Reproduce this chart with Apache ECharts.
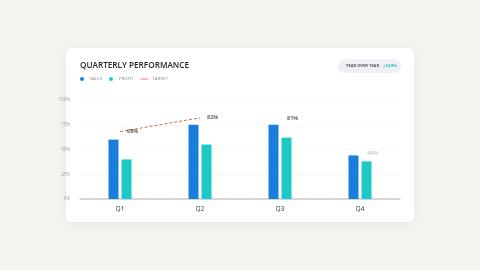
<!DOCTYPE html>
<html>
<head>
<meta charset="utf-8">
<script src="https://cdn.jsdelivr.net/npm/echarts@6/dist/echarts.min.js"></script>
<style>
  html, body { margin: 0; padding: 0; background: #f6f4f0; }
  #chart { width: 480px; height: 270px; }
</style>
</head>
<body>
<div id="chart"></div>
<script>
// chart data
const quarters = ['Q1', 'Q2', 'Q3', 'Q4'];
const sales = [60, 75, 75, 44];
const profit = [40, 55, 62, 38];
const targetLine = [68, 82, '-', '-'];
const targetLabels = [68, 82, 81, 46];
const yTicks = [0, 25, 50, 75, 100];

const chart = echarts.init(document.getElementById('chart'));
const font = "'Open Sans', 'Noto Sans', sans-serif";

chart.setOption({
  animation: false,
  backgroundColor: '#f6f4f0',
  textStyle: { fontFamily: font },
  title: {
    text: 'QUARTERLY PERFORMANCE',
    left: 75,
    top: 57,
    textStyle: { fontSize: 8.2, fontWeight: 600, color: '#262626', fontFamily: font }
  },
  legend: {
    left: 75,
    top: 72,
    itemWidth: 8,
    itemHeight: 4,
    itemGap: 7,
    textStyle: { fontSize: 4.3, color: '#8a8a8a', padding: [0, 0, 0, -1] },
    data: [
      { name: 'SALES', icon: 'circle' },
      { name: 'PROFIT', icon: 'circle' },
      { name: 'TARGET', icon: 'path://M0,0M0,1.6L8,1.6L8,2.4L0,2.4ZM8,4' }
    ]
  },
  graphic: [
    {
      type: 'rect', z: -10,
      shape: { x: 66, y: 48, width: 348, height: 174, r: 6 },
      style: { fill: '#ffffff', shadowBlur: 14, shadowColor: 'rgba(0,0,0,0.06)', shadowOffsetY: 2 }
    },
    {
      type: 'rect', z: 5,
      shape: { x: 338, y: 59, width: 63, height: 14, r: 7 },
      style: { fill: '#eef0f3' }
    },
    {
      type: 'text', z: 6, x: 346, y: 66,
      style: { text: 'YEAR OVER YEAR', fontSize: 4, fontWeight: 'bold', fill: '#555', verticalAlign: 'middle', fontFamily: font }
    },
    {
      type: 'text', z: 6, x: 383, y: 66,
      style: { text: '+14.8%', fontSize: 4, fontWeight: 'bold', fill: '#1fbfbf', verticalAlign: 'middle', fontFamily: font }
    }
  ],
  grid: { left: 80, right: 80, top: 100, bottom: 71 },
  xAxis: {
    type: 'category',
    data: quarters,
    axisTick: { show: false },
    axisLine: { lineStyle: { color: '#c9c9c9', width: 1.5 } },
    axisLabel: { fontSize: 6.5, color: '#333', margin: 7 }
  },
  yAxis: {
    type: 'value',
    min: yTicks[0],
    max: yTicks[yTicks.length - 1],
    interval: 25,
    axisLabel: { formatter: '{value}%', fontSize: 4.5, color: '#a0a0a0', margin: 10 },
    splitLine: { lineStyle: { color: '#f2f2f2', width: 0.6 } }
  },
  series: [
    {
      name: 'SALES', type: 'bar', data: sales,
      barWidth: 10, barGap: '30%',
      itemStyle: { color: '#1a7fdc' }
    },
    {
      name: 'PROFIT', type: 'bar', data: profit,
      barWidth: 10,
      itemStyle: { color: '#1dc8c6' }
    },
    {
      name: 'TARGET', type: 'line', data: targetLine,
      symbol: 'none', z: 5,
      lineStyle: { color: '#d9694f', width: 1, type: [3, 2] },
      itemStyle: { color: '#d9694f' }
    },
    {
      name: 'targetLabel', type: 'scatter', symbolSize: 0, z: 6,
      data: targetLabels.map((v, i) => ({
        value: v,
        label: i === 3
          ? { color: '#999', fontWeight: 'normal' }
          : { color: '#444', fontWeight: 'bold' }
      })),
      label: {
        show: true, position: 'right', distance: 7,
        fontSize: 5.5, formatter: '{c}%'
      }
    }
  ]
});
</script>
</body>
</html>
